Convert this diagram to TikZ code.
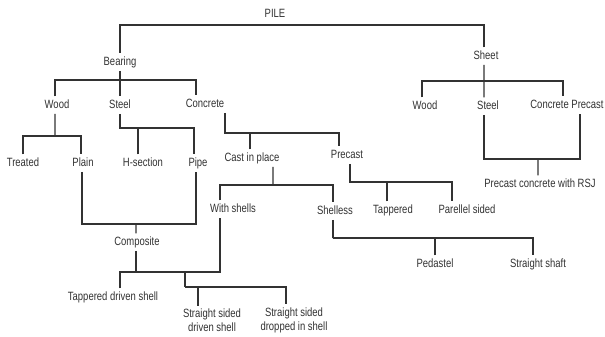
\documentclass[tikz,border=0pt]{standalone}
\usepackage{fontspec}
\setmainfont{Liberation Sans}[FakeStretch=0.79]
\usepackage{tikz}
\usetikzlibrary{positioning}
\definecolor{inkgray}{RGB}{50,50,50}
\tikzstyle{lbl} = [text=inkgray, font=\fontsize{12bp}{14bp}\selectfont, text height=9bp, text depth=2.5bp, inner sep=2bp, outer sep=1bp]
\tikzstyle{lbltwo} = [text=inkgray, font=\fontsize{12bp}{14bp}\selectfont, align=center, inner sep=2bp, outer sep=1bp]
\tikzstyle{link} = [draw=inkgray, line width=1.3bp]

\begin{document}
\begin{tikzpicture}[x=1bp, y=-1bp]
						\useasboundingbox (0,0) rectangle (605,336);
						% top level
						\node (pile) [lbl] at (275,14) {PILE};
						\node (bearing) [lbl] at (120,62) {Bearing};
						\node (sheet) [lbl] at (486,56) {Sheet};
						% bearing piles
						\node (wood) [lbl] at (57,105) {Wood};
						\node (steel) [lbl] at (120,105) {Steel};
						\node (concrete) [lbl] at (205,104) {Concrete};
						\node (treated) [lbl] at (23,163) {Treated};
						\node (plain) [lbl] at (83,163) {Plain};
						\node (hsec) [lbl] at (143,163) {H-section};
						\node (pipe) [lbl] at (198,163) {Pipe};
						\node (cast) [lbl] at (252,158) {Cast in place};
						\node (precast) [lbl] at (347,155) {Precast};
						\node (shells) [lbl] at (233,209) {With shells};
						\node (shelless) [lbl] at (335,211) {Shelless};
						\node (tapp) [lbl] at (393,210) {Tappered};
						\node (para) [lbl] at (467,210) {Parellel sided};
						\node (pedastel) [lbl] at (435,264) {Pedastel};
						\node (shaft) [lbl] at (538,264) {Straight shaft};
						\node (composite) [lbl] at (137,242) {Composite};
						\node (tdriven) [lbl] at (113,297) {Tappered driven shell};
						\node (ssdriven) [lbltwo] at (212,320) {Straight sided\\driven shell};
						\node (ssdropped) [lbltwo] at (294,320) {Straight sided\\dropped in shell};
						% sheet piles
						\node (swood) [lbl] at (425,106) {Wood};
						\node (ssteel) [lbl] at (488,106) {Steel};
						\node (sconc) [lbl] at (567,105) {Concrete Precast};
						\node (rsj) [lbl] at (540,184) {Precast concrete with RSJ};
						% bar levels
						\coordinate (pilebar) at (275,25);
						\coordinate (bearbar) at (120,80);
						\coordinate (woodbar) at (55,136);
						\coordinate (steelbar) at (120,128);
						\coordinate (concbar) at (225,133);
						\coordinate (castbar) at (273,185);
						\coordinate (precbar) at (350,182);
						\coordinate (sheetbar) at (484,81);
						\coordinate (rsjbar) at (538,159);
						\coordinate (shlbar) at (333,238);
						\coordinate (cmpbar) at (136,224);
						\coordinate (shellbar) at (185,272);
						\coordinate (ssbar) at (185,287);
						% connectors
						\draw [link] ([xshift=-2]sheet.north) |- (pilebar) -| (bearing.north);
						\draw [link] (bearing.south) -- (steel.north);
						\draw [link] ([xshift=-2]wood.north) |- (bearbar) -| ([xshift=-9]concrete.north);
						\draw [link] ([xshift=-2]wood.south) -- (woodbar);
						\draw [link] (treated.north) |- (woodbar) -| ([xshift=-2]plain.north);
						\draw [link] (steel.south) |- (steelbar) -| ([xshift=-4]pipe.north);
						\draw [link] ([xshift=-5]hsec.north) -- ([xshift=-5]hsec.north |- steelbar);
						\draw [link] ([xshift=20]concrete.south) |- (concbar) -| ([xshift=-8]precast.north);
						\draw [link] ([xshift=-2]cast.north) -- ([xshift=-2]cast.north |- concbar);
						\draw [link] ([xshift=21]cast.south) -- (castbar);
						\draw [link] ([xshift=-13]shells.north) |- (castbar) -| ([xshift=-2]shelless.north);
						\draw [link] ([xshift=3]precast.south) |- (precbar) -| ([xshift=-15]para.north);
						\draw [link] ([xshift=-6]tapp.north) -- ([xshift=-6]tapp.north |- precbar);
						\draw [link] ([xshift=-2]sheet.south) -- ([xshift=-4]ssteel.north);
						\draw [link] ([xshift=-3]swood.north) |- (sheetbar) -| ([xshift=-4]sconc.north);
						\draw [link] ([xshift=-4]ssteel.south) |- (rsjbar) -| ([xshift=13]sconc.south);
						\draw [link] (rsjbar) -- ([xshift=-2]rsj.north);
						\draw [link] ([xshift=-2]shelless.south) |- (shlbar) -| ([xshift=-5]shaft.north);
						\draw [link] (pedastel.north) -- (pedastel.north |- shlbar);
						\draw [link] ([xshift=-1]plain.south) |- (cmpbar) -| ([xshift=-2]pipe.south);
						\draw [link] (cmpbar) -- ([xshift=-1]composite.north);
						\draw [link] ([xshift=-1]composite.south) -- ([xshift=-1]composite.south |- shellbar);
						\draw [link] ([xshift=7]tdriven.north) |- (shellbar) -| ([xshift=-13]shells.south);
						\draw [link] (shellbar) -- (ssbar);
						\draw [link] ([xshift=-14]ssdriven.north) |- (ssbar) -| ([xshift=-8]ssdropped.north);
					\end{tikzpicture}
\end{document}
